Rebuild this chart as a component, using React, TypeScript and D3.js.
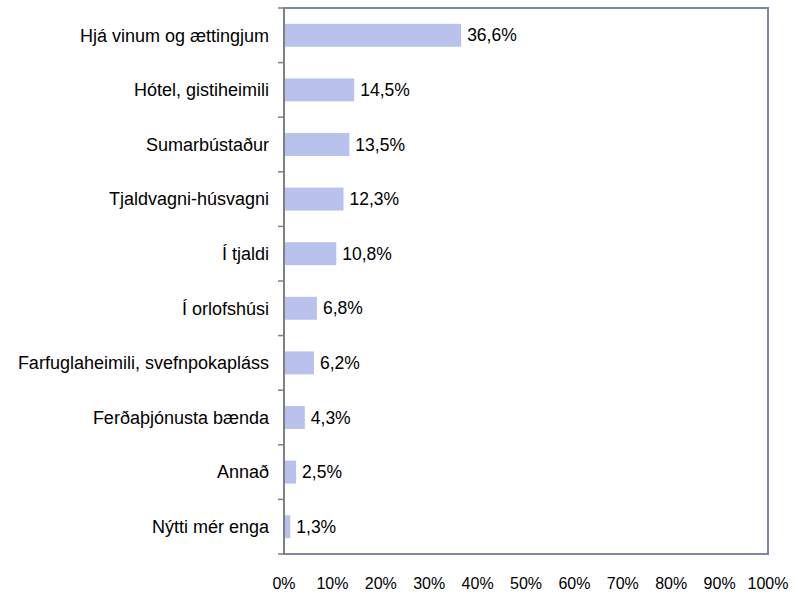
import { useEffect, useRef } from 'react'
import * as d3 from 'd3'

const categories = [
  'Hjá vinum og ættingjum',
  'Hótel, gistiheimili',
  'Sumarbústaður',
  'Tjaldvagni-húsvagni',
  'Í tjaldi',
  'Í orlofshúsi',
  'Farfuglaheimili, svefnpokapláss',
  'Ferðaþjónusta bænda',
  'Annað',
  'Nýtti mér enga',
]
const values = [36.6, 14.5, 13.5, 12.3, 10.8, 6.8, 6.2, 4.3, 2.5, 1.3]
const xTicks = [0, 10, 20, 30, 40, 50, 60, 70, 80, 90, 100]

const fmt = (v: number) => v.toFixed(1).replace('.', ',') + '%'
const FONT = 'Liberation Sans, Arial, sans-serif'

const App = () => {
  const ref = useRef<SVGSVGElement>(null)

  useEffect(() => {
    const svg = d3.select(ref.current)
    svg.selectAll('*').remove()

    const W = 798
    const H = 594
    const margin = { top: 8, right: 30, bottom: 40, left: 284 }
    const width = W - margin.left - margin.right
    const height = H - margin.top - margin.bottom

    const g = svg.append('g').attr('transform', `translate(${margin.left},${margin.top})`)

    const x = d3.scaleLinear().domain([0, 100]).range([0, width])
    const y = d3.scaleBand<string>().domain(categories).range([0, height]).paddingInner(0.58).paddingOuter(0.29)

    // frame
    g.append('rect')
      .attr('width', width)
      .attr('height', height)
      .attr('fill', 'none')
      .attr('stroke', '#7d88a8')
      .attr('stroke-width', 2)

    // bars
    g.selectAll('rect.bar')
      .data(values)
      .enter()
      .append('rect')
      .attr('class', 'bar')
      .attr('x', 0)
      .attr('y', (_, i) => y(categories[i])!)
      .attr('width', (d) => x(d))
      .attr('height', y.bandwidth())
      .attr('fill', '#b8c2ec')

    // value labels
    g.selectAll('text.val')
      .data(values)
      .enter()
      .append('text')
      .attr('class', 'val')
      .attr('x', (d) => x(d) + 6)
      .attr('y', (_, i) => y(categories[i])! + y.bandwidth() / 2)
      .attr('dy', '0.35em')
      .attr('font-family', FONT)
      .attr('font-size', 17.5)
      .attr('fill', '#000')
      .text((d) => fmt(d))

    // left axis, ticks sit on the category boundaries
    const step = height / categories.length
    const bounds = d3.range(categories.length + 1).map((i) => i * step)
    g.append('line')
      .attr('x1', 0)
      .attr('x2', 0)
      .attr('y1', 0)
      .attr('y2', height)
      .attr('stroke', '#808080')
      .attr('stroke-width', 2)
    g.selectAll('line.tick')
      .data(bounds)
      .enter()
      .append('line')
      .attr('class', 'tick')
      .attr('x1', -6)
      .attr('x2', 0)
      .attr('y1', (d) => d)
      .attr('y2', (d) => d)
      .attr('stroke', '#808080')
      .attr('stroke-width', 1.5)

    // category labels
    g.selectAll('text.cat')
      .data(categories)
      .enter()
      .append('text')
      .attr('class', 'cat')
      .attr('x', -15)
      .attr('y', (d) => y(d)! + y.bandwidth() / 2)
      .attr('dy', '0.35em')
      .attr('text-anchor', 'end')
      .attr('font-family', FONT)
      .attr('font-size', 18)
      .attr('fill', '#000')
      .text((d) => d)

    // x tick labels
    g.selectAll('text.xt')
      .data(xTicks)
      .enter()
      .append('text')
      .attr('class', 'xt')
      .attr('x', (d) => x(d))
      .attr('y', height + 29)
      .attr('dy', '0.35em')
      .attr('text-anchor', 'middle')
      .attr('font-family', FONT)
      .attr('font-size', 16)
      .attr('fill', '#000')
      .text((d) => d + '%')
  }, [])

  return (
    <svg
      ref={ref}
      width={798}
      height={594}
      style={{ position: 'absolute', left: 0, top: 0, background: '#fff' }}
    />
  )
}

export default App
